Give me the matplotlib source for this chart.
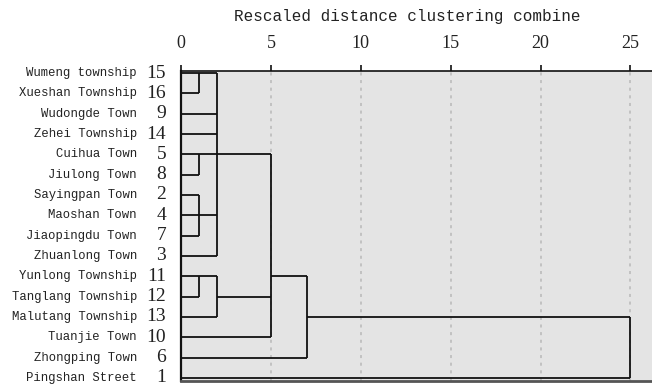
import matplotlib
matplotlib.use("Agg")
import matplotlib.pyplot as plt

# ---- data (top to bottom, as in the dendrogram) ----
labels = ["Wumeng township", "Xueshan Township", "Wudongde Town", "Zehei Township",
          "Cuihua Town", "Jiulong Town", "Sayingpan Town", "Maoshan Town",
          "Jiaopingdu Town", "Zhuanlong Town", "Yunlong Township", "Tanglang Township",
          "Malutang Township", "Tuanjie Town", "Zhongping Town", "Pingshan Street"]
case_ids = [15, 16, 9, 14, 5, 8, 2, 4, 7, 3, 11, 12, 13, 10, 6, 1]

# merges: children are case ids (int) or earlier merges ("m<k>")
merge_children = [[15, 16], [5, 8], [2, 4, 7], ["m0", 9, 14, "m1", "m2", 3],
                  [11, 12], ["m4", 13], ["m3", "m5", 10], ["m6", 6], ["m7", 1]]
merge_dist = [1, 1, 1, 2, 1, 2, 5, 7, 25]
merge_row = [15, 5, 4, 5, 11, 12, 11, 13, 13]  # case whose row carries the joining line

xticks = [0, 5, 10, 15, 20, 25]
title = "Rescaled distance clustering combine"

LINE = "#111111"

fig = plt.figure(figsize=(6.52, 3.89), dpi=100)
ax = fig.add_axes([181 / 652, 1 - 381 / 389, 1 - 181 / 652, 310 / 389])
ax.set_facecolor("#e4e4e4")

row_of = {c: i for i, c in enumerate(case_ids)}
nodes = {}


def node_pos(ch):
    if isinstance(ch, str):
        return nodes[ch]
    return row_of[ch], 0


for k, (kids, d, out) in enumerate(zip(merge_children, merge_dist, merge_row)):
    ys = []
    for ch in kids:
        y, x0 = node_pos(ch)
        ax.plot([x0, d], [y, y], color=LINE, lw=1.3, solid_capstyle="butt", zorder=3)
        ys.append(y)
    ax.plot([d, d], [min(ys), max(ys)], color=LINE, lw=1.3, solid_capstyle="butt", zorder=3)
    nodes["m%d" % k] = (row_of[out], d)

# grid
for t in xticks[1:]:
    ax.axvline(t, color="#b8b8b8", lw=1.1, ls=(0, (2, 3)), zorder=1)

ax.set_xlim(0, 26.2)
ax.set_ylim(15.15, -0.1)

ax.xaxis.tick_top()
ax.set_xticks(xticks)
ax.set_xticklabels([str(t) for t in xticks], family="Liberation Serif", fontsize=13, color="#222222")
ax.tick_params(axis="x", length=4, width=1.2, pad=10, color="#111111")
ax.set_yticks([])

ax.spines["right"].set_visible(False)
ax.spines["top"].set_linewidth(1.2)
ax.spines["top"].set_color("#111111")
ax.spines["left"].set_linewidth(1.6)
ax.spines["left"].set_color("#111111")
ax.spines["bottom"].set_linewidth(2.0)
ax.spines["bottom"].set_color("#555555")

# leaf labels
for i, (lab, cid) in enumerate(zip(labels, case_ids)):
    ax.annotate(str(cid), xy=(0, i), xytext=(-15, 0), textcoords="offset pixels",
                ha="right", va="center", family="Liberation Serif", fontsize=14,
                color="#222222", annotation_clip=False)
    ax.annotate(lab, xy=(0, i), xytext=(-44, 0), textcoords="offset pixels",
                ha="right", va="center", family="Liberation Mono", fontsize=8.8,
                color="#222222", annotation_clip=False)

fig.text(407 / 652, 1 - 17 / 389, title, ha="center", va="center",
         family="Liberation Mono", fontsize=11.5, color="#222222")

plt.savefig("out.png", dpi=100)
